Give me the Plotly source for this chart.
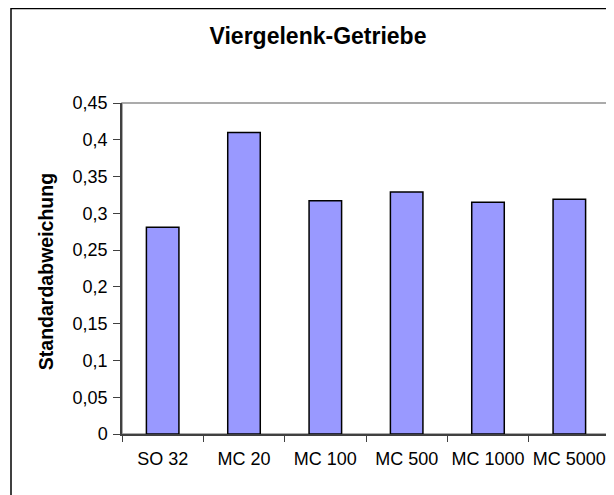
import plotly.graph_objects as go

categories = ["SO 32", "MC 20", "MC 100", "MC 500", "MC 1000", "MC 5000"]
values = [0.281, 0.410, 0.317, 0.329, 0.315, 0.319]
y_ticks = [0, 0.05, 0.1, 0.15, 0.2, 0.25, 0.3, 0.35, 0.4, 0.45]
y_tick_labels = ["0", "0,05", "0,1", "0,15", "0,2", "0,25", "0,3", "0,35", "0,4", "0,45"]

# page has an 8px body margin; figure coordinates are page coordinates minus 8
W, H = 606, 487
L, R, T, B = 114, 4, 95, 61
pw, ph = W - L - R, H - T - B

fig = go.Figure(go.Bar(
    x=categories, y=values,
    marker=dict(color="#9999FF", line=dict(color="black", width=1.5)),
))

font = "Arial, Liberation Sans, sans-serif"
fig.update_layout(
    width=W, height=H,
    margin=dict(l=L, r=R, t=T, b=B, autoexpand=False),
    paper_bgcolor="white", plot_bgcolor="white",
    bargap=0.6,
    showlegend=False,
    font=dict(family=font, color="black", size=18),
    title=dict(text="<b>Viergelenk-Getriebe</b>", x=310 / W, xref="container",
               y=1 - 28 / H, yref="container", xanchor="center", yanchor="middle",
               font=dict(size=23, family=font, color="black")),
    xaxis=dict(type="category", showline=True, linecolor="#404040", linewidth=1.5,
               ticks="outside", tickson="boundaries", ticklen=6, tickcolor="#404040",
               showgrid=False, tickfont=dict(size=18), ticklabelstandoff=8,
               tickangle=0, automargin=False),
    yaxis=dict(range=[0, 0.45], tickvals=y_ticks, ticktext=y_tick_labels,
               showline=True, linecolor="#404040", linewidth=1.5,
               ticks="outside", ticklen=7, tickcolor="#404040",
               showgrid=False, zeroline=False, tickfont=dict(size=18),
               ticklabelstandoff=2, automargin=False),
    shapes=[
        dict(type="rect", xref="paper", yref="paper", x0=0, x1=1, y0=0, y1=1,
             line=dict(color="#909090", width=1.5), layer="below"),
        dict(type="line", xref="paper", yref="paper",
             x0=(3 - L) / pw, x1=(3 - L) / pw, y0=(T + ph) / ph, y1=-(B + 5) / ph,
             line=dict(color="black", width=1.5)),
        dict(type="line", xref="paper", yref="paper",
             x0=(3 - L) / pw, x1=(W + 5 - L) / pw, y0=(T + ph - 0.5) / ph, y1=(T + ph - 0.5) / ph,
             line=dict(color="black", width=1.5)),
    ],
    annotations=[
        dict(text="<b>Standardabweichung</b>", textangle=-90, xref="paper", yref="paper",
             x=(38 - L) / pw, y=0.489, xanchor="center", yanchor="middle", showarrow=False,
             font=dict(size=19.5, family=font, color="black")),
    ],
)

fig.write_html("out.html")
